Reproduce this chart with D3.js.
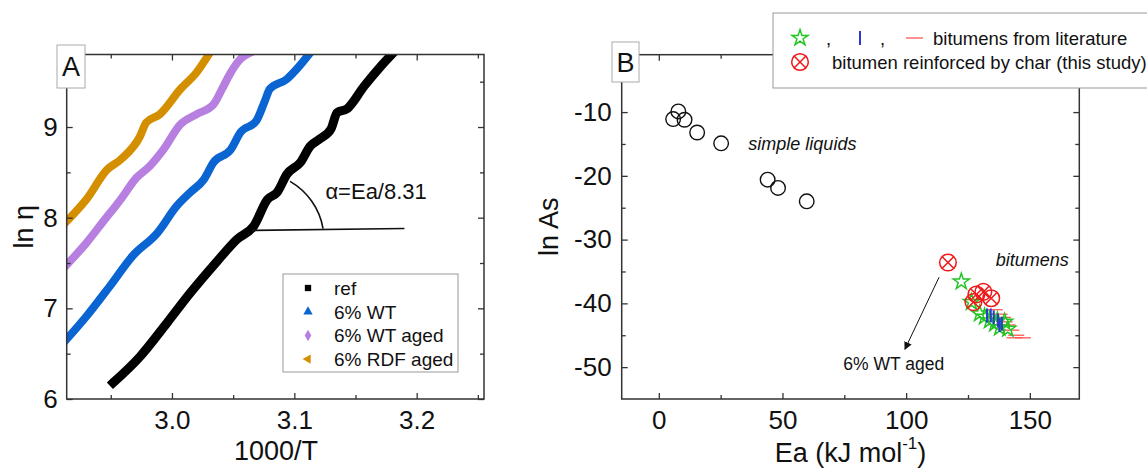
<!DOCTYPE html>
<html>
<head>
<meta charset="utf-8">
<script src="https://cdn.jsdelivr.net/npm/d3@7"></script>
<style>
    body { margin: 0; background: #fff; }
    svg text { font-family: "Liberation Sans", Arial, sans-serif; fill: #111; }
</style>
</head>
<body>
<div id="chart"></div>
<script>
// Panel A: ln(eta) against 1000/T, points read along each band
var refCurve = [[2.952, 6.18], [2.974, 6.47], [2.996, 6.84], [3.015, 7.17], [3.037, 7.52], [3.053, 7.76],
    [3.067, 7.91], [3.078, 8.20], [3.086, 8.28], [3.094, 8.48], [3.105, 8.61], [3.113, 8.79], [3.121, 8.87],
    [3.130, 8.98], [3.135, 9.16], [3.143, 9.20], [3.157, 9.45], [3.170, 9.66], [3.181, 9.82]];
var wtCurve = [[2.914, 6.66], [2.930, 6.91], [2.949, 7.24], [2.968, 7.58], [2.988, 7.83], [3.004, 8.13],
    [3.015, 8.28], [3.026, 8.42], [3.034, 8.61], [3.048, 8.75], [3.056, 8.94], [3.069, 9.07], [3.076, 9.29],
    [3.080, 9.42], [3.094, 9.53], [3.102, 9.64], [3.113, 9.82]];
var wtAgedCurve = [[2.914, 7.48], [2.930, 7.72], [2.944, 7.96], [2.958, 8.20], [2.971, 8.44], [2.982, 8.57],
    [2.993, 8.75], [3.007, 9.03], [3.020, 9.14], [3.034, 9.25], [3.041, 9.42], [3.048, 9.60], [3.056, 9.75],
    [3.064, 9.82]];
var rdfAgedCurve = [[2.914, 7.96], [2.930, 8.20], [2.947, 8.53], [2.958, 8.64], [2.974, 8.90], [2.979, 9.05],
    [2.990, 9.14], [3.007, 9.42], [3.020, 9.60], [3.031, 9.82]];

var seriesNamesA = ["ref", "6% WT", "6% WT aged", "6% RDF aged"];
var seriesColorsA = ["#000000", "#0a64d2", "#b77fe0", "#d48f00"];

var xTicksA = [3.0, 3.1, 3.2];
var xMinorA = [2.95, 3.05, 3.15, 3.25];
var yTicksA = [6, 7, 8, 9];
var yMinorA = [6.5, 7.5, 8.5, 9.5];

// Panel B: ln As against Ea
var simpleLiquids = [[5.8, -11.1], [7.9, -9.9], [10.4, -11.2], [15.5, -13.2], [25.2, -14.9],
    [44.0, -20.6], [48.2, -21.9], [59.8, -24.0]];
var charBitumens = [[116.9, -33.6], [127.2, -39.8], [128.4, -38.6], [131.2, -38.2], [134.4, -39.2]];
var litStars = [[122.3, -36.6], [126.4, -39.8], [129.7, -41.6], [131.7, -42.1], [133.7, -42.7],
    [135.8, -43.2], [137.8, -43.8], [139.8, -42.9], [141.1, -44.0], [136.9, -42.7]];
var litBars = [[132.7, -41.9], [134.2, -41.9], [135.4, -42.2], [137.1, -42.7], [138.7, -43.2], [137.8, -43.4]];
var litDashes = [[135.8, -41.0], [137.8, -41.7], [139.1, -42.2], [139.8, -42.9], [141.1, -43.4],
    [142.5, -44.2], [144.5, -45.0], [147.2, -45.4], [143.8, -45.4]];

var xTicksB = [0, 50, 100, 150];
var xMinorB = [25, 75, 125];
var yTicksB = [-10, -20, -30, -40, -50];
var yMinorB = [-5, -15, -25, -35, -45];

var W = 1147, H = 468;

var svg = d3.select("#chart")
    .append("svg")
    .attr("width", W)
    .attr("height", H);

svg.append("rect").attr("width", W).attr("height", H).attr("fill", "#fff");

// frame with inward ticks on all four sides
function drawFrame(g, x, y, majX, minX, majY, minY, fmtX, fmtY, padY) {
    var x0 = x.range()[0], x1 = x.range()[1];
    var y0 = y.range()[0], y1 = y.range()[1];

    function addAxis(axis, tx, ty) {
        var a = g.append("g")
            .attr("transform", `translate(${tx},${ty})`)
            .call(axis);
        a.select(".domain").remove();
        a.selectAll("line").attr("stroke", "#333").attr("stroke-width", 1.3);
        a.selectAll("text").attr("font-size", 26).attr("fill", "#111")
            .attr("font-family", "Liberation Sans, Arial, sans-serif");
        return a;
    }

    addAxis(d3.axisBottom(x).tickValues(majX).tickSize(-6).tickPadding(12).tickFormat(fmtX), 0, y0);
    addAxis(d3.axisBottom(x).tickValues(minX).tickSize(-4).tickFormat(""), 0, y0);
    addAxis(d3.axisTop(x).tickValues(majX).tickSize(-6).tickFormat(""), 0, y1);
    addAxis(d3.axisTop(x).tickValues(minX).tickSize(-4).tickFormat(""), 0, y1);
    addAxis(d3.axisLeft(y).tickValues(majY).tickSize(-6).tickPadding(padY).tickFormat(fmtY), x0, 0);
    addAxis(d3.axisLeft(y).tickValues(minY).tickSize(-4).tickFormat(""), x0, 0);
    addAxis(d3.axisRight(y).tickValues(majY).tickSize(-6).tickFormat(""), x1, 0);
    addAxis(d3.axisRight(y).tickValues(minY).tickSize(-4).tickFormat(""), x1, 0);

    g.append("rect")
        .attr("x", x0).attr("y", y1)
        .attr("width", x1 - x0).attr("height", y0 - y1)
        .attr("fill", "none")
        .attr("stroke", "#333")
        .attr("stroke-width", 1.5);
}

function panelTag(g, label, cx, top, w, h) {
    g.append("rect")
        .attr("x", cx - w / 2).attr("y", top)
        .attr("width", w).attr("height", h)
        .attr("fill", "#fff")
        .attr("stroke", "#aaa")
        .attr("stroke-width", 1);
    g.append("text")
        .attr("x", cx).attr("y", top + h / 2)
        .attr("dy", "0.36em")
        .attr("text-anchor", "middle")
        .attr("font-size", 27)
        .text(label);
}

// ---------------- Panel A ----------------
var xA = d3.scaleLinear().domain([2.914, 3.255]).range([66.7, 484]);
var yA = d3.scaleLinear().domain([6, 9.8]).range([399, 54.5]);

var gA = svg.append("g");

gA.append("clipPath").attr("id", "clipA")
    .append("rect")
    .attr("x", xA.range()[0]).attr("y", yA.range()[1])
    .attr("width", xA.range()[1] - xA.range()[0])
    .attr("height", yA.range()[0] - yA.range()[1]);

var lineA = d3.line()
    .x(d => xA(d[0]))
    .y(d => yA(d[1]))
    .curve(d3.curveMonotoneX);

var curvesA = [refCurve, wtCurve, wtAgedCurve, rdfAgedCurve];

gA.append("g")
    .attr("clip-path", "url(#clipA)")
    .selectAll("path")
    .data(curvesA)
    .enter()
    .append("path")
    .attr("d", d => lineA(d))
    .attr("fill", "none")
    .attr("stroke", (d, i) => seriesColorsA[i])
    .attr("stroke-width", (d, i) => i === 0 ? 9 : 8)
    .attr("stroke-linejoin", "round")
    .attr("stroke-linecap", "square");

// slope annotation
var slopeStart = [3.0656, 7.86], slopeEnd = [3.19, 7.88];
gA.append("line")
    .attr("x1", xA(slopeStart[0])).attr("y1", yA(slopeStart[1]))
    .attr("x2", xA(slopeEnd[0])).attr("y2", yA(slopeEnd[1]))
    .attr("stroke", "#111").attr("stroke-width", 1.6);
var arcFrom = [3.0965, 8.40], arcTo = [3.1235, 7.88];
gA.append("path")
    .attr("d", `M${xA(arcFrom[0])},${yA(arcFrom[1])} A 68 68 0 0 1 ${xA(arcTo[0])},${yA(arcTo[1])}`)
    .attr("fill", "none").attr("stroke", "#111").attr("stroke-width", 1.6);
gA.append("text")
    .attr("x", xA(3.1254)).attr("y", yA(8.29))
    .attr("dy", "0.36em")
    .attr("font-size", 22)
    .text("\u03b1=Ea/8.31");

drawFrame(gA, xA, yA, xTicksA, xMinorA, yTicksA, yMinorA, d3.format(".1f"), d3.format("d"), 9);

// legend A
var legA = gA.append("g");
legA.append("rect")
    .attr("x", 283).attr("y", 274)
    .attr("width", 175).attr("height", 98)
    .attr("fill", "#fff")
    .attr("stroke", "#999")
    .attr("stroke-width", 1);
var symTypesA = [d3.symbolSquare, d3.symbolTriangle, d3.symbolDiamond, d3.symbolTriangle];
var symRotA = [0, 0, 0, -90];
seriesNamesA.forEach(function (name, i) {
    var yy = 288 + i * 23.7;
    legA.append("path")
        .attr("d", d3.symbol().type(symTypesA[i]).size(i === 0 ? 40 : 38)())
        .attr("transform", `translate(308,${yy}) rotate(${symRotA[i]})`)
        .attr("fill", seriesColorsA[i]);
    legA.append("text")
        .attr("x", 334).attr("y", yy)
        .attr("dy", "0.36em")
        .attr("font-size", 19)
        .text(name);
});

panelTag(gA, "A", 71, 45, 28, 43);

gA.append("text")
    .attr("x", xA(3.085)).attr("y", 450)
    .attr("dy", "0.36em")
    .attr("text-anchor", "middle")
    .attr("font-size", 27)
    .text("1000/T");

gA.append("text")
    .attr("transform", `translate(23,${(yA.range()[0] + yA.range()[1]) / 2}) rotate(-90)`)
    .attr("dy", "0.36em")
    .attr("text-anchor", "middle")
    .attr("font-size", 27)
    .text("ln \u03b7");

// ---------------- Panel B ----------------
var xB = d3.scaleLinear().domain([-15, 170]).range([621.7, 1079.3]);
var yB = d3.scaleLinear().domain([-55, -1]).range([399, 54.7]);

var gB = svg.append("g");

drawFrame(gB, xB, yB, xTicksB, xMinorB, yTicksB, yMinorB, d3.format("d"), d => d3.format("d")(d).replace("\u2212", "-"), 10);

// simple liquids
gB.selectAll(".liq")
    .data(simpleLiquids)
    .enter()
    .append("circle")
    .attr("class", "liq")
    .attr("cx", d => xB(d[0]))
    .attr("cy", d => yB(d[1]))
    .attr("r", 7.3)
    .attr("fill", "none")
    .attr("stroke", "#111")
    .attr("stroke-width", 1.4);

// literature bitumens: red dashes, green stars, blue bars
gB.selectAll(".dash")
    .data(litDashes)
    .enter()
    .append("line")
    .attr("class", "dash")
    .attr("x1", d => xB(d[0]) - 8).attr("x2", d => xB(d[0]) + 8)
    .attr("y1", d => yB(d[1])).attr("y2", d => yB(d[1]))
    .attr("stroke", "#ff5555")
    .attr("stroke-width", 1.3);

var star = d3.symbol().type(d3.symbolStar).size(80);
gB.selectAll(".star")
    .data(litStars)
    .enter()
    .append("path")
    .attr("class", "star")
    .attr("d", star())
    .attr("transform", d => `translate(${xB(d[0])},${yB(d[1])})`)
    .attr("fill", "none")
    .attr("stroke", "#22c422")
    .attr("stroke-width", 1.5);

gB.selectAll(".bar")
    .data(litBars)
    .enter()
    .append("line")
    .attr("class", "bar")
    .attr("x1", d => xB(d[0])).attr("x2", d => xB(d[0]))
    .attr("y1", d => yB(d[1]) - 7).attr("y2", d => yB(d[1]) + 7)
    .attr("stroke", "#2a3bd0")
    .attr("stroke-width", 2);

// bitumen reinforced by char
function crossCircle(g, cx, cy, r) {
    var k = r * 0.72;
    g.append("circle").attr("cx", cx).attr("cy", cy).attr("r", r)
        .attr("fill", "none").attr("stroke", "#f01818").attr("stroke-width", 1.5);
    g.append("path")
        .attr("d", `M${cx - k},${cy - k}L${cx + k},${cy + k}M${cx - k},${cy + k}L${cx + k},${cy - k}`)
        .attr("stroke", "#f01818").attr("stroke-width", 1.5);
}
charBitumens.forEach(d => crossCircle(gB, xB(d[0]), yB(d[1]), 8.3));

// annotations
gB.append("text")
    .attr("x", xB(36.2)).attr("y", yB(-14.9))
    .attr("dy", "0.36em")
    .attr("font-size", 18)
    .attr("font-style", "italic")
    .text("simple liquids");
gB.append("text")
    .attr("x", xB(136.2)).attr("y", yB(-33.1))
    .attr("dy", "0.36em")
    .attr("font-size", 18)
    .attr("font-style", "italic")
    .text("bitumens");

svg.append("defs").append("marker")
    .attr("id", "arrowHead")
    .attr("viewBox", "0 0 10 10")
    .attr("refX", 9).attr("refY", 5)
    .attr("markerWidth", 8).attr("markerHeight", 8)
    .attr("markerUnits", "userSpaceOnUse")
    .attr("orient", "auto")
    .append("path")
    .attr("d", "M0,0L10,5L0,10Z")
    .attr("fill", "#111");

var arrowFrom = [113.3, -35.9], arrowTo = [99.5, -47.2];
gB.append("line")
    .attr("x1", xB(arrowFrom[0])).attr("y1", yB(arrowFrom[1]))
    .attr("x2", xB(arrowTo[0])).attr("y2", yB(arrowTo[1]))
    .attr("stroke", "#111").attr("stroke-width", 1)
    .attr("marker-end", "url(#arrowHead)");
gB.append("text")
    .attr("x", xB(95)).attr("y", yB(-49.4))
    .attr("dy", "0.36em")
    .attr("text-anchor", "middle")
    .attr("font-size", 17.5)
    .text("6% WT aged");

panelTag(gB, "B", 625.5, 42, 27, 40);

// legend B
var legB = gB.append("g");
legB.append("rect")
    .attr("x", 773).attr("y", 13)
    .attr("width", 400).attr("height", 75)
    .attr("fill", "#fff")
    .attr("stroke", "#999")
    .attr("stroke-width", 1);
legB.append("path")
    .attr("d", star())
    .attr("transform", "translate(800,38)")
    .attr("fill", "none").attr("stroke", "#22c422").attr("stroke-width", 1.5);
legB.append("text").attr("x", 826).attr("y", 38).attr("dy", "0.36em").attr("font-size", 18.5).text(",");
legB.append("line")
    .attr("x1", 860).attr("x2", 860).attr("y1", 31).attr("y2", 45)
    .attr("stroke", "#2a3bd0").attr("stroke-width", 2);
legB.append("text").attr("x", 880).attr("y", 38).attr("dy", "0.36em").attr("font-size", 18.5).text(",");
legB.append("line")
    .attr("x1", 906).attr("x2", 923).attr("y1", 38).attr("y2", 38)
    .attr("stroke", "#ff5555").attr("stroke-width", 1.3);
legB.append("text").attr("x", 933).attr("y", 38).attr("dy", "0.36em").attr("font-size", 18.5)
    .text("bitumens from literature");
crossCircle(legB, 800, 62, 8.3);
legB.append("text").attr("x", 832).attr("y", 62).attr("dy", "0.36em").attr("font-size", 18.5)
    .text("bitumen reinforced by char (this study)");

// axis titles B
var eaLabel = gB.append("text")
    .attr("x", (xB.range()[0] + xB.range()[1]) / 2).attr("y", 452)
    .attr("dy", "0.36em")
    .attr("text-anchor", "middle")
    .attr("font-size", 27);
eaLabel.append("tspan").text("Ea (kJ mol");
eaLabel.append("tspan").attr("font-size", 17).attr("dy", "-0.75em").text("-1");
eaLabel.append("tspan").attr("dy", "0.48em").text(")");

gB.append("text")
    .attr("transform", `translate(548,${(yB.range()[0] + yB.range()[1]) / 2}) rotate(-90)`)
    .attr("dy", "0.36em")
    .attr("text-anchor", "middle")
    .attr("font-size", 27)
    .text("ln As");
</script>
</body>
</html>
